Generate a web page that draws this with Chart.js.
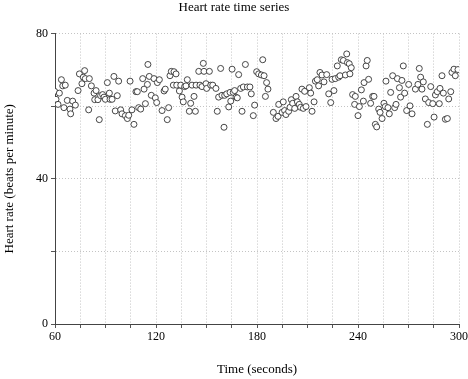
<!DOCTYPE html>
<html>
<head>
<meta charset="utf-8">
<script src="https://cdn.jsdelivr.net/npm/chart.js@4/dist/chart.umd.min.js"></script>
<style>
html,body{margin:0;padding:0;background:#fff;}
#wrap{width:468px;height:379px;position:relative;}
</style>
</head>
<body>
<div id="wrap"><canvas id="c" width="468" height="379"></canvas></div>
<script>
const times = [
59.8,60.6,61.8,62.6,63.8,64.6,65.3,66.1,67.3,68.9,69.3,70.5,72.1,73.7,74.5,76.0,76.8,77.6,78.0,80.0,
80.4,81.6,83.2,83.6,84.4,85.5,86.3,87.1,88.3,89.1,89.9,91.1,92.3,92.7,93.9,95.0,95.8,97.0,97.8,99.0,
99.8,101.8,103.0,103.8,104.6,105.7,106.9,108.1,108.9,109.7,110.9,112.1,112.9,113.7,114.9,115.2,116.0,
117.2,118.8,119.6,120.4,120.8,122.0,123.6,124.8,125.5,126.7,127.5,128.3,129.1,130.3,130.7,131.9,132.3,
133.9,134.7,135.5,136.2,137.0,137.8,138.6,139.8,140.6,141.4,142.6,143.4,143.8,145.4,146.1,147.3,148.1,
148.5,149.7,150.1,151.7,152.5,153.7,155.6,156.4,157.2,158.4,159.2,160.4,160.8,162.0,163.2,164.0,164.4,
165.2,165.9,166.7,167.5,168.3,169.1,170.3,171.1,171.9,173.1,174.3,175.8,176.6,177.8,178.6,179.8,181.0,
182.6,183.4,184.2,185.0,185.7,186.5,189.7,191.3,192.5,192.9,194.9,195.6,196.4,197.2,198.8,199.6,200.4,
201.2,202.4,203.2,204.0,205.1,205.9,206.7,207.5,208.3,209.1,211.1,211.9,212.7,213.9,214.7,215.8,216.6,
217.4,218.6,219.8,221.4,222.6,223.8,224.6,225.7,226.5,227.7,228.5,229.3,230.1,231.3,232.5,233.3,233.7,
234.8,235.2,
236.0,236.8,238.0,238.4,240.0,240.8,242.0,243.2,243.6,244.8,245.5,246.3,247.5,248.7,249.5,250.3,251.1,
252.3,253.1,254.3,255.4,256.2,256.6,257.8,258.6,259.4,260.6,261.8,262.6,263.4,264.6,265.3,266.1,266.9,
267.7,268.9,270.1,270.9,272.1,274.1,275.6,276.4,277.2,278.0,278.8,280.0,281.2,282.0,283.2,284.4,285.2,
286.0,287.1,288.3,288.7,289.9,290.7,291.9,293.1,293.9,295.1,295.8,297.0,297.8,299.4
];
const heartRate = [
64.1,61.9,60.5,63.6,67.3,65.6,59.6,65.8,61.6,59.2,57.9,61.4,60.3,64.3,68.9,66.2,68.0,69.8,67.6,59.0,
67.6,65.6,63.6,61.8,64.3,61.8,56.3,62.9,63.2,62.5,61.9,66.5,63.6,61.9,61.9,68.2,58.7,62.9,66.9,59.0,
57.9,57.4,56.6,57.5,66.9,59.0,55.0,64.0,64.0,59.6,59.2,67.6,64.7,60.7,66.0,71.5,68.2,
63.0,67.6,62.3,61.0,66.5,67.3,58.8,64.2,64.7,56.3,59.6,68.4,69.6,65.8,69.5,68.9,65.8,
64.2,65.8,62.5,61.2,65.4,65.6,67.3,58.6,60.8,65.8,62.7,58.6,65.8,69.6,65.8,65.4,71.8,
69.6,66.2,64.9,69.6,65.8,65.8,64.9,58.6,62.5,70.4,63.0,54.2,63.0,63.4,59.8,63.8,61.4,
70.2,63.8,64.3,62.5,62.3,68.7,64.9,58.6,65.3,71.5,65.3,65.3,63.4,57.4,60.3,69.5,68.9,
68.6,72.8,68.4,62.7,66.5,64.7,58.3,56.6,57.2,60.5,58.3,61.2,58.8,57.7,58.6,59.7,61.8,
60.8,59.4,62.7,61.2,60.5,59.7,64.7,59.4,64.1,59.9,65.1,63.6,58.6,61.2,66.9,67.3,65.6,
69.3,68.6,66.7,68.7,63.4,61.0,67.4,64.3,67.6,71.1,68.0,68.4,72.8,72.6,68.6,74.4,72.0,
71.7,68.9,
70.6,63.2,60.5,62.7,57.4,59.9,64.5,61.4,66.5,71.1,72.6,67.4,60.8,62.7,62.7,55.0,54.3,
59.2,58.3,56.6,60.8,59.9,66.9,59.6,57.9,63.8,68.4,59.6,60.5,67.6,65.1,62.5,67.1,71.1,
63.6,58.8,66.0,60.1,57.9,64.7,66.0,70.4,68.0,64.7,66.7,62.0,55.0,61.0,65.4,60.7,57.0,
63.1,64.0,60.7,64.9,68.4,63.6,56.4,56.6,62.0,64.0,69.3,70.2,68.4,70.1
];
const xTickLabels = [60, 120, 180, 240, 300];
const yTickLabels = [0, 40, 80];

const points = times.map((t, i) => ({x: t, y: heartRate[i]}));
const FONT = "'Liberation Serif', 'DejaVu Serif', serif";

new Chart(document.getElementById('c'), {
  type: 'scatter',
  data: {
    datasets: [{
      data: points,
      pointRadius: 3,
      pointHoverRadius: 3,
      pointBackgroundColor: '#ffffff',
      pointBorderColor: '#333333',
      pointBorderWidth: 0.9
    }]
  },
  options: {
    responsive: false,
    animation: false,
    events: [],
    layout: { padding: { left: 0, right: 0, top: 0, bottom: 0 } },
    plugins: {
      legend: { display: false },
      tooltip: { enabled: false },
      title: {
        display: true,
        text: 'Heart rate time series',
        color: '#000',
        font: { family: FONT, size: 13, weight: 'normal' },
        padding: { top: 0, bottom: 18 }
      }
    },
    scales: {
      x: {
        type: 'linear',
        min: 60, max: 300,
        afterFit: s => { s.height = 55; s.paddingRight = 9; s.paddingLeft = 0; },
        ticks: {
          stepSize: 15,
          autoSkip: false,
          maxRotation: 0,
          color: '#000',
          padding: 2,
          font: { family: FONT, size: 12 },
          callback: v => xTickLabels.includes(v) ? String(v) : ''
        },
        grid: {
          color: '#c4c4c4',
          lineWidth: 1,
          tickLength: 4,
          tickColor: '#555',
          tickBorderDash: []
        },
        border: { display: true, color: '#444', width: 1, dash: [1, 2] },
        title: {
          display: true,
          text: 'Time (seconds)',
          color: '#000',
          font: { family: FONT, size: 13 },
          padding: { top: 0, bottom: 2 }
        }
      },
      y: {
        type: 'linear',
        min: 0, max: 80,
        afterFit: s => { s.width = 55; },
        ticks: {
          stepSize: 20,
          autoSkip: false,
          color: '#000',
          padding: 3,
          font: { family: FONT, size: 12 },
          callback: v => yTickLabels.includes(v) ? String(v) : ''
        },
        grid: {
          color: '#c4c4c4',
          lineWidth: 1,
          tickLength: 4,
          tickColor: '#555',
          tickBorderDash: []
        },
        border: { display: true, color: '#444', width: 1, dash: [1, 2] },
        title: {
          display: true,
          text: 'Heart rate (beats per minute)',
          color: '#000',
          font: { family: FONT, size: 13 },
          padding: { top: 2, bottom: 0 }
        }
      }
    }
  }
});
</script>
</body>
</html>
